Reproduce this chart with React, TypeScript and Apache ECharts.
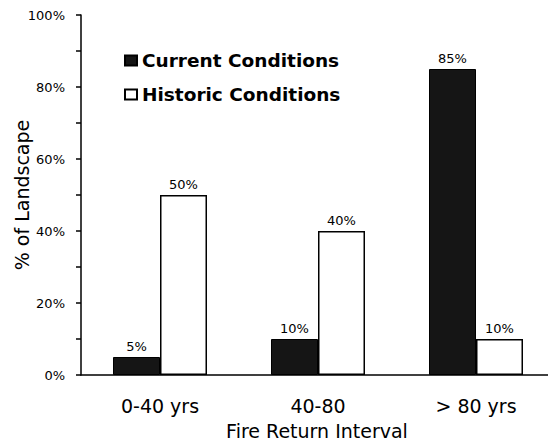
import React, { useEffect, useRef } from "react";
import * as echarts from "echarts";

const categories = ["0-40 yrs", "40-80", "> 80 yrs"];
const currentValues = [5, 10, 85];
const historicValues = [50, 40, 10];
const seriesNames = ["Current Conditions", "Historic Conditions"];
const xAxisTitle = "Fire Return Interval";
const yAxisTitle = "% of Landscape";

export default function App() {
  const ref = useRef<HTMLDivElement>(null);
  useEffect(() => {
    const chart = echarts.init(ref.current!, null, { renderer: "svg" });
    const font = "DejaVu Sans, Liberation Sans, Arial, sans-serif";
    const label = {
      show: true,
      position: "top",
      distance: 4,
      formatter: (p: any) => p.value + "%",
      fontFamily: font,
      fontSize: 13,
      color: "#000",
    };
    chart.setOption({
      animation: false,
      backgroundColor: "#fff",
      grid: { left: 81, right: -7, top: 15, bottom: 66, outerBoundsMode: "none" },
      legend: {
        left: 119,
        top: 46,
        padding: 5,
        orient: "vertical",
        itemWidth: 12,
        itemHeight: 10,
        itemGap: 15,
        icon: "rect",
        textStyle: { fontFamily: font, fontSize: 18.5, fontWeight: "bold", color: "#000" },
        data: seriesNames,
      },
      xAxis: {
        type: "category",
        data: categories,
        axisLine: { lineStyle: { color: "#000", width: 1.5 } },
        axisTick: { show: false },
        axisLabel: { fontFamily: font, fontSize: 19, color: "#000", margin: 21 },
      },
      yAxis: {
        type: "value",
        min: 0,
        max: 100,
        interval: 10,
        axisLine: { show: true, lineStyle: { color: "#000", width: 1.5 } },
        axisTick: { show: true, inside: false, length: 5, lineStyle: { color: "#000", width: 1.5 } },
        splitLine: { show: false },
        axisLabel: {
          fontFamily: font,
          fontSize: 13,
          color: "#000",
          margin: 16,
          formatter: (v: number) => (v % 20 === 0 ? v + "%" : ""),
        },
        name: yAxisTitle,
        nameLocation: "middle",
        nameGap: 50,
        nameMoveOverlap: false,
        nameTextStyle: { fontFamily: font, fontSize: 19, color: "#000" },
      },
      graphic: [
        {
          type: "text",
          x: 317,
          y: 431,
          style: {
            text: xAxisTitle,
            font: "19px DejaVu Sans, Liberation Sans, Arial, sans-serif",
            fill: "#000",
            textAlign: "center",
            textVerticalAlign: "middle",
          },
        },
      ],
      series: [
        {
          name: seriesNames[0],
          type: "bar",
          data: currentValues,
          barWidth: 47,
          barGap: "0%",
          itemStyle: { color: "#151515", borderColor: "#000", borderWidth: 1 },
          label,
        },
        {
          name: seriesNames[1],
          type: "bar",
          data: historicValues,
          barWidth: 47,
          barGap: "0%",
          itemStyle: { color: "#fff", borderColor: "#000", borderWidth: 1.5 },
          label,
        },
      ],
    });
    return () => chart.dispose();
  }, []);
  return <div ref={ref} style={{ width: 548, height: 441, position: "absolute", left: 0, top: 0 }} />;
}
